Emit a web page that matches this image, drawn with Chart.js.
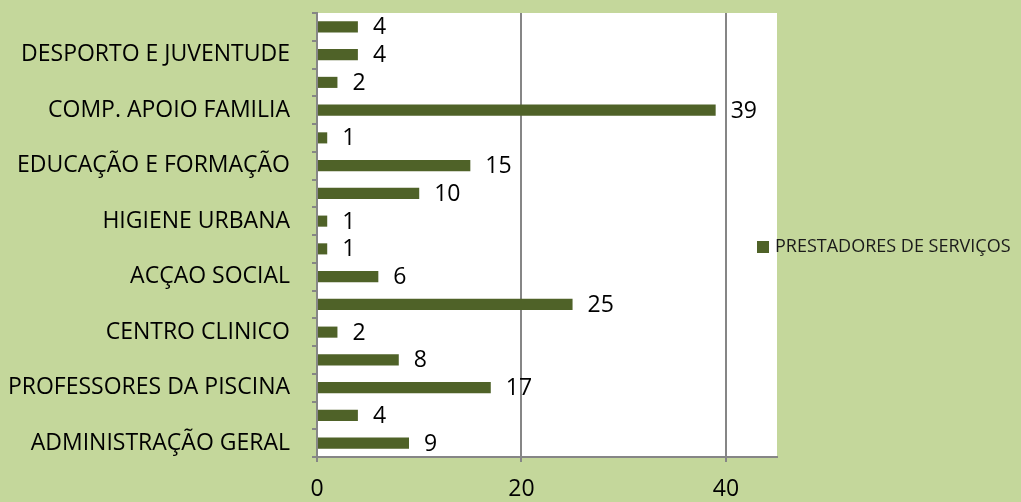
<!DOCTYPE html>
<html>
<head>
<meta charset="utf-8">
<script src="https://cdn.jsdelivr.net/npm/chart.js@4/dist/chart.umd.min.js"></script>
<style>
  html, body { margin: 0; padding: 0; background: #C4D79B; }
  #wrap { width: 1021px; height: 502px; }
</style>
</head>
<body>
<div id="wrap"><canvas id="c" width="1021" height="502"></canvas></div>
<script>
// Categories listed top to bottom; blank entries are categories whose labels are skipped in the reference
const categories = [
  '', 'DESPORTO E JUVENTUDE', '', 'COMP. APOIO FAMILIA', '', 'EDUCAÇÃO E FORMAÇÃO',
  '', 'HIGIENE URBANA', '', 'ACÇAO SOCIAL', '', 'CENTRO CLINICO',
  '', 'PROFESSORES DA PISCINA', '', 'ADMINISTRAÇÃO GERAL'
];
const prestadores = [4, 4, 2, 39, 1, 15, 10, 1, 1, 6, 25, 2, 8, 17, 4, 9];
const seriesName = 'PRESTADORES DE SERVIÇOS';
const xTicks = [0, 20, 40];

const BG = '#C4D79B';
const BAR = '#4F6228';
const AXIS = '#868686';
const FONT = "'Open Sans', sans-serif";

const bgPlugin = {
  id: 'bgPlugin',
  beforeDraw(chart) {
    const { ctx, chartArea: a } = chart;
    ctx.save();
    ctx.fillStyle = BG;
    ctx.fillRect(0, 0, chart.width, chart.height);
    ctx.fillStyle = '#FFFFFF';
    ctx.fillRect(a.left, a.top, a.right - a.left, a.bottom - a.top);
    ctx.restore();
  }
};

const labelPlugin = {
  id: 'labelPlugin',
  afterDatasetsDraw(chart) {
    const { ctx } = chart;
    const meta = chart.getDatasetMeta(0);
    const vals = chart.data.datasets[0].data;
    ctx.save();
    ctx.fillStyle = '#000000';
    ctx.font = "23px " + FONT;
    ctx.textAlign = 'left';
    ctx.textBaseline = 'middle';
    meta.data.forEach((bar, i) => {
      ctx.fillText(String(vals[i]), bar.x + 15, bar.y + 1);
    });
    ctx.restore();
  }
};

const legendPlugin = {
  id: 'legendPlugin',
  afterDraw(chart) {
    const { ctx } = chart;
    const ds = chart.data.datasets[0];
    ctx.save();
    ctx.fillStyle = ds.backgroundColor;
    ctx.fillRect(757, 241, 12, 12);
    ctx.fillStyle = '#1A1A1A';
    ctx.font = "18px " + FONT;
    ctx.textAlign = 'left';
    ctx.textBaseline = 'middle';
    ctx.fillText(ds.label, 775, 247);
    ctx.restore();
  }
};

new Chart(document.getElementById('c'), {
  type: 'bar',
  data: {
    labels: categories,
    datasets: [{
      label: seriesName,
      data: prestadores,
      backgroundColor: BAR,
      borderWidth: 0,
      categoryPercentage: 1.0,
      barPercentage: 0.4
    }]
  },
  options: {
    indexAxis: 'y',
    responsive: false,
    animation: false,
    devicePixelRatio: 1,
    layout: { padding: { top: 13, right: 244, left: 0, bottom: 0 } },
    plugins: {
      legend: { display: false },
      tooltip: { enabled: false }
    },
    scales: {
      x: {
        type: 'linear',
        min: 0,
        max: 45,
        afterBuildTicks(scale) { scale.ticks = xTicks.map(v => ({ value: v })); },
        afterFit(scale) { scale.height = 45; scale.paddingLeft = 0; scale.paddingRight = 0; },
        grid: {
          color: (c) => (c.tick && c.tick.value === 0 ? 'rgba(0,0,0,0)' : AXIS),
          lineWidth: 2,
          drawTicks: true,
          tickLength: 5,
          tickColor: AXIS
        },
        border: { display: true, color: AXIS, width: 2 },
        ticks: {
          color: '#000000',
          font: { family: FONT, size: 23 },
          padding: 14,
          maxRotation: 0
        }
      },
      y: {
        afterFit(scale) { scale.width = 317; scale.paddingTop = 0; scale.paddingBottom = 0; },
        grid: {
          drawOnChartArea: false,
          drawTicks: true,
          tickLength: 5,
          tickColor: AXIS,
          color: AXIS,
          lineWidth: 2,
          offset: true
        },
        border: { display: true, color: AXIS, width: 2 },
        ticks: {
          autoSkip: false,
          color: '#000000',
          font: { family: FONT, size: 23 },
          padding: 22
        }
      }
    }
  },
  plugins: [bgPlugin, labelPlugin, legendPlugin]
});
</script>
</body>
</html>
